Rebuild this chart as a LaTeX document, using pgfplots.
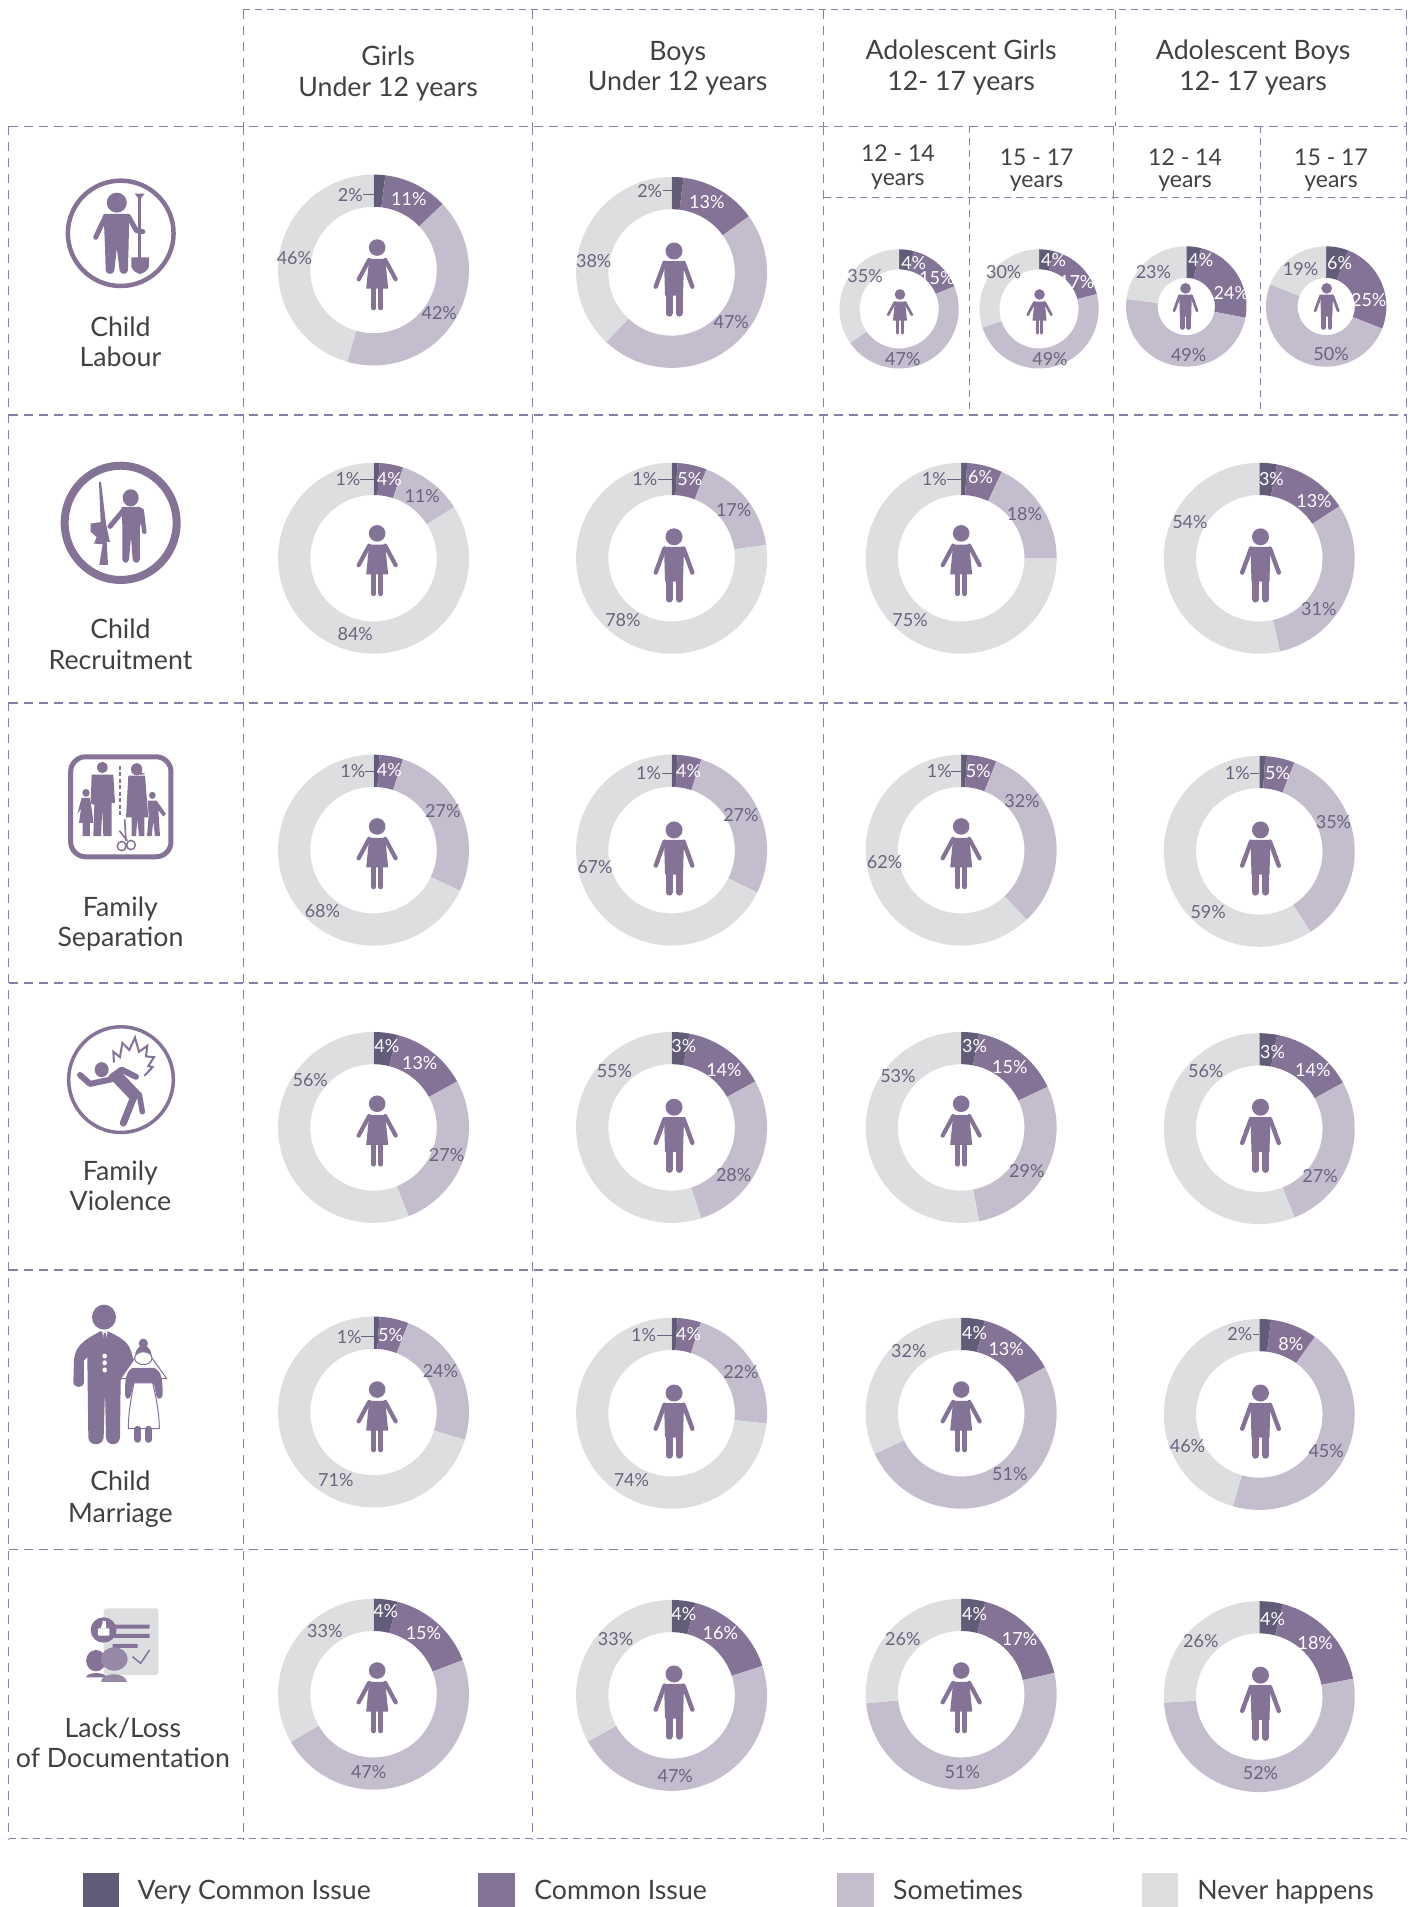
\documentclass[border=0pt]{standalone}
\usepackage{fontspec}
\setmainfont{Lato}
\usepackage{pgfplots}
\pgfplotsset{compat=1.18}
\definecolor{vc}{HTML}{635C78}
\definecolor{co}{HTML}{847397}
\definecolor{so}{HTML}{C4BDCE}
\definecolor{ne}{HTML}{DDDEE0}
\definecolor{gridc}{HTML}{8B7EA6}
\definecolor{txt}{HTML}{404144}
\definecolor{labc}{HTML}{6A647E}
\newcommand\fsL{\fontsize{26.7}{30}\selectfont}
\newcommand\fsS{\fontsize{23}{26}\selectfont}
\newcommand\fsP{\fontsize{18}{20}\selectfont}
\newcount\segj
% segment of a ring: cx cy Ro Ri from to colour
\newcommand\seg[7]{%
  \pgfmathtruncatemacro\segN{max(1,ceil((#6-#5)/4))}%
  \pgfmathsetmacro\segd{(#6-#5)/\segN}%
  \gdef\seglist{}%
  \segj=0
  \loop\ifnum\segj<\numexpr\segN+1\relax
    \pgfmathsetmacro\sega{#5+\segd*\the\segj}%
    \pgfmathsetmacro\segx{#1+#3*sin(\sega)}%
    \pgfmathsetmacro\segy{#2-#3*cos(\sega)}%
    \xdef\seglist{\seglist(\segx,\segy) }%
    \advance\segj by 1
  \repeat
  \segj=\segN
  \loop\ifnum\segj>-1
    \pgfmathsetmacro\sega{#5+\segd*\the\segj}%
    \pgfmathsetmacro\segx{#1+#4*sin(\sega)}%
    \pgfmathsetmacro\segy{#2-#4*cos(\sega)}%
    \xdef\seglist{\seglist(\segx,\segy) }%
    \advance\segj by -1
  \repeat
  \edef\segcmd{\noexpand\addplot[fill=#7,draw=none,no markers,forget plot] coordinates {\seglist};}%
  \segcmd
}
% donut: cx cy Ro Ri  very common, common, sometimes, never
\newcommand\donut[8]{%
  \pgfmathsetmacro\dT{#5+#6+#7+#8}%
  \pgfmathsetmacro\dA{3.6*(#5*100/\dT)}%
  \pgfmathsetmacro\dB{3.6*((#5+#6)*100/\dT)}%
  \pgfmathsetmacro\dC{3.6*((#5+#6+#7)*100/\dT)}%
  \edef\dArgs{{#1}{#2}{#3}{#4}}%
  \edef\dcmd{\noexpand\seg\dArgs{0}{\dA}{vc}\noexpand\seg\dArgs{\dA}{\dB}{co}\noexpand\seg\dArgs{\dB}{\dC}{so}\noexpand\seg\dArgs{\dC}{360}{ne}}%
  \dcmd
}
\newcommand\dl[3]{\node[font=\fsP,text=labc,inner sep=0pt] at (axis cs:#1,#2) {#3\%};}
\newcommand\wl[3]{\node[font=\fsP,text=white,inner sep=0pt] at (axis cs:#1,#2) {#3\%};}
\newcommand\lead[3]{\draw[labc,line width=1pt] (axis cs:#1,#3) -- (axis cs:#2,#3);}
\newcommand\girl[3]{\begin{scope}[shift={(#1*1.21668,1907-#2*1.2162)},scale=#3,co,fill=co]
  \fill (0,27.3) circle [radius=8.3];
  \fill (-8,16) -- (8,16) -- (11,-13.7) -- (-11,-13.7) -- cycle;
  \draw[line width=#3*4.2pt,line cap=round] (-8,15) -- (-18.5,-4.5);
  \draw[line width=#3*4.2pt,line cap=round] (8,15) -- (18.5,-4.5);
  \draw[line width=#3*5pt,line cap=round] (-3.6,-12) -- (-3.6,-33);
  \draw[line width=#3*5pt,line cap=round] (3.6,-12) -- (3.6,-33);
\end{scope}}
\newcommand\boy[3]{\begin{scope}[shift={(#1*1.21668,1907-#2*1.2162)},scale=#3,co,fill=co]
  \fill (0,28.7) circle [radius=8.5];
  \fill (-10,18.7) -- (10,18.7) -- (9,-16) -- (-9,-16) -- cycle;
  \draw[line width=#3*4.4pt,line cap=round] (-9.5,17) -- (-18.3,-7);
  \draw[line width=#3*4.4pt,line cap=round] (9.5,17) -- (18.3,-7);
  \draw[line width=#3*7pt,line cap=round] (-5,-12) -- (-5,-33.5);
  \draw[line width=#3*7pt,line cap=round] (5,-12) -- (5,-33.5);
\end{scope}}
\newcommand\tx[3]{\node[font=\fsL,text=txt,inner sep=0pt,yshift=-4.5pt] at (axis cs:#1,#2) {\strut #3};}
\newcommand\sx[3]{\node[font=\fsS,text=txt,inner sep=0pt,yshift=-3.5pt] at (axis cs:#1,#2) {\strut #3};}
\begin{document}
\begin{tikzpicture}[x=1pt,y=1pt]
\useasboundingbox (0,0) rectangle (1415,1907);
\begin{axis}[at={(0pt,0pt)},anchor=south west,scale only axis,width=1415pt,height=1907pt,
  xmin=0,xmax=1163,ymin=0,ymax=1568,y dir=reverse,hide axis,clip=false,enlargelimits=false]
% ---- grid
\tikzset{hh/.style={gridc,line width=1.8pt,dash pattern=on 9pt off 6pt},
         vv/.style={gridc,line width=1.1pt,dash pattern=on 9pt off 7pt},
         ss/.style={gridc,line width=1pt,dash pattern=on 7pt off 5pt}}
\draw[ss] (axis cs:200,8) -- (axis cs:1156,8);
\foreach \y in {104,341,578,808,1044,1274} {\edef\t{\noexpand\draw[hh] (axis cs:7,\y) -- (axis cs:1156,\y);}\t}
\draw[ss] (axis cs:7,1512) -- (axis cs:1156,1512);
\foreach \x in {7,200,438,677,915,1156} {\edef\t{\noexpand\draw[vv] (axis cs:\x,104) -- (axis cs:\x,1512);}\t}
\foreach \x in {200,438,677,917,1156} {\edef\t{\noexpand\draw[vv] (axis cs:\x,8) -- (axis cs:\x,104);}\t}
\draw[ss] (axis cs:677,162) -- (axis cs:1156,162);
\draw[ss] (axis cs:797,104) -- (axis cs:797,341);
\draw[ss] (axis cs:1036,104) -- (axis cs:1036,341);
% ---- donuts
\donut{307}{222}{78.5}{52}{2}{11}{42}{46}
\donut{552}{224}{78.5}{52}{2}{13}{47}{38}
\donut{739}{254}{49}{32.5}{4}{15}{47}{35}
\donut{854}{254}{49}{32.5}{4}{17}{49}{30}
\donut{975}{252}{49.5}{23.5}{4}{24}{49}{23}
\donut{1090}{252}{49.5}{23.5}{6}{25}{50}{19}
\donut{307}{459}{78.5}{52}{1}{4}{11}{84}
\donut{552}{459}{78.5}{52}{1}{5}{17}{78}
\donut{790}{459}{78.5}{52}{1}{6}{18}{75}
\donut{1035}{459}{78.5}{52}{3}{13}{31}{54}
\donut{307}{699}{78.5}{52}{1}{4}{27}{68}
\donut{552}{699}{78.5}{52}{1}{4}{27}{67}
\donut{790}{699}{78.5}{52}{1}{5}{32}{62}
\donut{1035}{700}{78.5}{52}{1}{5}{35}{59}
\donut{307}{927}{78.5}{52}{4}{13}{27}{56}
\donut{552}{927}{78.5}{52}{3}{14}{28}{55}
\donut{790}{927}{78.5}{52}{3}{15}{29}{53}
\donut{1035}{928}{78.5}{52}{3}{14}{27}{56}
\donut{307}{1161}{78.5}{52}{1}{5}{24}{71}
\donut{552}{1162}{78.5}{52}{1}{4}{22}{74}
\donut{790}{1162}{78.5}{52}{4}{13}{51}{32}
\donut{1035}{1163}{78.5}{52}{2}{8}{45}{46}
\donut{307}{1393}{78.5}{52}{4}{15}{47}{33}
\donut{552}{1394}{78.5}{52}{4}{16}{47}{33}
\donut{790}{1393}{78.5}{52}{4}{17}{51}{26}
\donut{1035}{1395}{78.5}{52}{4}{18}{52}{26}
% ---- legend swatches
\addplot[fill=vc,draw=none,no markers,forget plot] coordinates {(68,1540) (98,1540) (98,1568) (68,1568)};
\addplot[fill=co,draw=none,no markers,forget plot] coordinates {(393,1540) (423,1540) (423,1568) (393,1568)};
\addplot[fill=so,draw=none,no markers,forget plot] coordinates {(688,1540) (718,1540) (718,1568) (688,1568)};
\addplot[fill=ne,draw=none,no markers,forget plot] coordinates {(939,1540) (968,1540) (968,1568) (939,1568)};
% ---- value labels
\dl{288}{160}{2}\lead{298}{307}{160}\wl{336}{164}{11}\dl{361}{257}{42}\dl{242}{212}{46}
\dl{534}{157}{2}\lead{545}{552}{157}\wl{581}{166}{13}\dl{601}{265}{47}\dl{488}{215}{38}
\wl{751}{216}{4}\wl{770}{229}{15}\dl{742}{295}{47}\dl{711}{227}{35}
\wl{866}{214}{4}\wl{885}{232}{17}\dl{863}{295}{49}\dl{825}{224}{30}
\wl{987}{214}{4}\wl{1012}{241}{24}\dl{977}{292}{49}\dl{948}{224}{23}
\wl{1101}{216}{6}\wl{1125}{247}{25}\dl{1094}{291}{50}\dl{1069}{221}{19}
\dl{286}{394}{1}\lead{296}{307}{394}\wl{320}{394}{4}\dl{347}{408}{11}\dl{292}{521}{84}
\dl{530}{394}{1}\lead{541}{552}{394}\wl{567}{394}{5}\dl{603}{419}{17}\dl{512}{510}{78}
\dl{768}{394}{1}\lead{778}{790}{394}\wl{806}{392}{6}\dl{842}{423}{18}\dl{748}{510}{75}
\wl{1045}{394}{3}\wl{1080}{412}{13}\dl{1084}{501}{31}\dl{978}{429}{54}
\dl{290}{634}{1}\lead{300}{307}{634}\wl{320}{633}{4}\dl{364}{667}{27}\dl{265}{749}{68}
\dl{533}{636}{1}\lead{544}{552}{636}\wl{566}{634}{4}\dl{609}{670}{27}\dl{489}{713}{67}
\dl{772}{634}{1}\lead{782}{790}{634}\wl{804}{634}{5}\dl{840}{659}{32}\dl{727}{709}{62}
\dl{1017}{636}{1}\lead{1027}{1035}{636}\wl{1050}{636}{5}\dl{1096}{676}{35}\dl{993}{750}{59}
\wl{318}{860}{4}\wl{345}{874}{13}\dl{367}{950}{27}\dl{255}{888}{56}
\wl{562}{860}{3}\wl{595}{880}{14}\dl{603}{966}{28}\dl{505}{881}{55}
\wl{801}{860}{3}\wl{830}{877}{15}\dl{844}{963}{29}\dl{738}{885}{53}
\wl{1046}{865}{3}\wl{1079}{880}{14}\dl{1085}{967}{27}\dl{991}{881}{56}
\dl{287}{1099}{1}\lead{297}{307}{1099}\wl{321}{1098}{5}\dl{362}{1127}{24}\dl{276}{1217}{71}
\dl{529}{1098}{1}\lead{540}{552}{1098}\wl{566}{1097}{4}\dl{609}{1128}{22}\dl{519}{1217}{74}
\wl{801}{1096}{4}\wl{827}{1109}{13}\dl{830}{1212}{51}\dl{747}{1111}{32}
\dl{1019}{1097}{2}\lead{1030}{1035}{1097}\wl{1061}{1105}{8}\dl{1090}{1193}{45}\dl{976}{1189}{46}
\wl{317}{1325}{4}\wl{348}{1343}{15}\dl{303}{1457}{47}\dl{267}{1341}{33}
\wl{562}{1327}{4}\wl{592}{1343}{16}\dl{555}{1460}{47}\dl{506}{1348}{33}
\wl{801}{1327}{4}\wl{838}{1348}{17}\dl{791}{1457}{51}\dl{742}{1348}{26}
\wl{1046}{1331}{4}\wl{1081}{1351}{18}\dl{1036}{1458}{52}\dl{987}{1349}{26}
% ---- headers
\tx{319}{45}{Girls}\tx{319}{71}{Under 12 years}
\tx{557}{41}{Boys}\tx{557}{66}{Under 12 years}
\tx{790}{40}{Adolescent Girls}\tx{790}{66}{12- 17 years}
\tx{1030}{40}{Adolescent Boys}\tx{1030}{66}{12- 17 years}
\sx{738}{126}{12 - 14}\sx{738}{145}{years}
\sx{852}{129}{15 - 17}\sx{852}{147}{years}
\sx{974}{129}{12 - 14}\sx{974}{147}{years}
\sx{1094}{129}{15 - 17}\sx{1094}{147}{years}
\tx{99}{268}{Child}\tx{99}{293}{Labour}
\tx{99}{516}{Child}\tx{99}{542}{Recruitment}
\tx{99}{745}{Family}\tx{99}{770}{Separation}
\tx{99}{962}{Family}\tx{99}{987}{Violence}
\tx{99}{1217}{Child}\tx{99}{1243}{Marriage}
\tx{101}{1420}{Lack/Loss}\tx{101}{1445}{of Documentation}
% ---- legend text
\node[font=\fsL,text=txt,inner sep=0pt,anchor=west,yshift=-4.5pt] at (axis cs:113,1553) {\strut Very Common Issue};
\node[font=\fsL,text=txt,inner sep=0pt,anchor=west,yshift=-4.5pt] at (axis cs:439,1553) {\strut Common Issue};
\node[font=\fsL,text=txt,inner sep=0pt,anchor=west,yshift=-4.5pt] at (axis cs:734,1553) {\strut Sometimes};
\node[font=\fsL,text=txt,inner sep=0pt,anchor=west,yshift=-4.5pt] at (axis cs:984,1553) {\strut Never happens};
\end{axis}
% ---- figures
\girl{310}{226}{1}\boy{554}{230}{1}\girl{739.7}{256.5}{.64}\girl{854.4}{256.5}{.64}\boy{974.4}{252}{.63}\boy{1090.4}{252}{.63}
\girl{310}{461}{1}\boy{554}{465}{1}\girl{790}{461}{1}\boy{1036}{465}{1}
\girl{310}{702}{1}\boy{554}{706}{1}\girl{790}{702}{1}\boy{1036}{706}{1}
\girl{310}{930}{1}\boy{554}{934}{1}\girl{790}{930}{1}\boy{1036}{934}{1}
\girl{310}{1165}{1}\boy{554}{1169}{1}\girl{790}{1165}{1}\boy{1036}{1169}{1}
\girl{310}{1396}{1}\boy{554}{1400}{1}\girl{790}{1396}{1}\boy{1036}{1401}{1}
% ---- icons, in the coordinates of enlarged crops
\begin{scope}[shift={(0pt,1907pt)},x={(0.35714pt,0pt)},y={(0pt,-0.33333pt)},co,fill=co]
  \draw[line width=4.5pt] (338,700) circle [x radius=148,y radius=158];
  \fill (327,608) circle [x radius=28,y radius=30];
  \fill (290,642) -- (362,642) -- (360,740) -- (358,812) .. controls (355,825) and (338,825) .. (335,812) -- (327,745) -- (320,812) .. controls (317,825) and (299,825) .. (296,812) -- (294,740) -- cycle;
  \draw[line width=5pt,line cap=round] (295,650) -- (268,712);
  \draw[line width=5pt,line cap=round,line join=round] (360,650) -- (382,692) -- (400,695);
  \draw[line width=3pt] (390,590) -- (390,775);
  \fill (377,581) -- (405,581) -- (391,600) -- cycle;
  \fill (368,772) -- (417,772) -- (417,800) .. controls (415,812) and (400,820) .. (392,822) .. controls (384,820) and (370,812) .. (368,800) -- cycle;
\end{scope}
\begin{scope}[shift={(0pt,1477pt)},x={(0.33333pt,0pt)},y={(0pt,-0.35714pt)},co,fill=co]
  \draw[line width=8pt] (362,260) circle [x radius=168,y radius=160];
  \fill (392,190) circle [radius=24];
  \fill (365,215) -- (420,215) -- (432,232) -- (420,270) -- (420,362) .. controls (418,375) and (400,375) .. (398,362) -- (393,300) -- (387,362) .. controls (385,375) and (369,375) .. (367,362) -- (367,270) -- cycle;
  \draw[line width=5pt,line cap=round] (370,225) -- (330,270);
  \draw[line width=4.5pt,line cap=round] (425,225) -- (433,285);
  \fill (297,145) -- (303,145) -- (318,262) -- (330,315) -- (320,312) -- (324,378) -- (298,378) -- (308,320) -- (282,318) -- (290,300) -- (272,285) -- (272,262) -- (302,258) -- cycle;
  % separation
  \draw[line width=5pt,rounded corners=15pt] (212,915) rectangle (513,1195);
  \fill (307,945) circle [radius=16];
  \fill (275,965) -- (340,965) -- (345,1045) -- (335,1045) -- (335,1137) -- (310,1137) -- (307,1060) -- (303,1137) -- (280,1137) -- (283,1050) -- (272,1045) -- cycle;
  \fill (258,1016) circle [radius=11];
  \fill (245,1030) -- (270,1030) -- (278,1080) -- (280,1100) -- (270,1100) -- (270,1137) -- (248,1137) -- (248,1100) -- (237,1100) -- (243,1060) -- (232,1075) -- cycle;
  \fill (410,950) circle [radius=17];
  \fill (420,958) -- (437,963) -- (420,966) -- cycle;
  \fill (385,968) -- (435,968) -- (445,1085) -- (433,1085) -- (433,1137) -- (417,1137) -- (412,1090) -- (408,1137) -- (395,1137) -- (395,1085) -- (378,1085) -- cycle;
  \fill (457,1023) circle [radius=10];
  \fill (443,1038) -- (470,1038) -- (498,1075) -- (490,1082) -- (475,1065) -- (480,1137) -- (465,1137) -- (460,1095) -- (455,1137) -- (441,1137) -- (446,1080) -- cycle;
  \draw[line width=1.8pt,dash pattern=on 4pt off 2.5pt] (360,940) -- (360,1085);
  \draw[line width=1.6pt] (374,1090) -- (378,1150) (358,1122) -- (382,1150);
  \draw[line width=1.5pt] (365,1165) circle [radius=13] (393,1162) circle [radius=13];
\end{scope}
\begin{scope}[shift={(0pt,907pt)},x={(0.33333pt,0pt)},y={(0pt,-0.35714pt)},co,fill=co]
  \draw[line width=3.5pt] (363,223) circle [x radius=157,y radius=148];
  \fill (305,195) circle [radius=21];
  \draw[line width=6pt,line cap=round,line join=round] (335,222) -- (270,235) -- (240,210);
  \draw[line width=6pt,line cap=round,line join=round] (335,215) -- (365,195) -- (408,215);
  \fill (325,215) -- (362,200) -- (425,262) -- (400,288) -- cycle;
  \draw[line width=5.5pt,line cap=round] (418,265) -- (427,313);
  \draw[line width=7pt,line cap=round] (400,275) -- (370,345);
  \draw[line width=2pt,line join=miter] (342,175) -- (340,145) -- (360,160) -- (367,120) -- (388,140) -- (405,105) -- (417,145) -- (442,128) -- (438,158) -- (462,160) -- (445,185) -- (458,188) -- (433,212);
  % marriage
  \fill (312,888) circle [x radius=36,y radius=35];
  \fill (222,1010) .. controls (225,960) and (270,945) .. (300,928) -- (325,928) .. controls (360,945) and (390,955) .. (398,1000) -- (405,1020) -- (362,1065) -- (360,1225) .. controls (358,1250) and (320,1250) .. (318,1225) -- (315,1090) -- (311,1225) .. controls (308,1250) and (267,1250) .. (265,1225) -- (262,1000) -- (252,1010) -- (252,1070) .. controls (250,1088) and (222,1088) .. (220,1070) -- cycle;
  \fill[white] (306,928) -- (323,928) -- (315,962) -- cycle;
  \fill (311,932) -- (318,932) -- (321,958) -- (315,964) -- (309,958) -- cycle;
  \fill[white] (314,997) circle [radius=7] (314,1016) circle [radius=7] (314,1036) circle [radius=7];
  \fill (430,962) circle [radius=14];
  \filldraw[fill=white,line width=1pt] (430,968) -- (362,1060) -- (500,1060) -- cycle;
  \fill (430,965) .. controls (412,970) and (405,985) .. (405,998) -- (455,998) .. controls (455,985) and (448,970) .. (430,965) -- cycle;
  \filldraw[fill=white,line width=1pt] (430,1003) circle [x radius=26,y radius=18];
  \fill (398,1030) -- (462,1030) .. controls (485,1040) and (488,1060) .. (488,1105) .. controls (486,1120) and (470,1120) .. (468,1105) -- (462,1075) -- (400,1075) -- (393,1105) .. controls (390,1120) and (376,1120) .. (375,1105) .. controls (375,1060) and (378,1040) .. (398,1030) -- cycle;
  \filldraw[fill=white,line width=1pt] (402,1072) -- (458,1072) .. controls (470,1120) and (478,1160) .. (478,1200) -- (385,1200) .. controls (385,1160) and (392,1120) .. (402,1072) -- cycle;
  \draw[line width=7pt,line cap=round] (414,1202) -- (414,1230) (446,1202) -- (446,1230);
\end{scope}
\begin{scope}[shift={(0pt,347pt)},x={(0.44643pt,0pt)},y={(0pt,-0.33333pt)}]
  \fill[ne,rounded corners=3pt] (232,145) rectangle (355,345);
  \fill[co] (232,210) circle [x radius=29,y radius=38];
  \fill[co] (255,194) rectangle (335,206) (255,222) rectangle (335,234) (252,252) rectangle (308,264);
  \fill[white,rounded corners=1pt] (219,205) rectangle (245,227);
  \fill[white] (226,205) -- (231,182) -- (237,184) -- (238,205) -- cycle;
  \fill[co] (215,302) circle [x radius=22,y radius=32];
  \fill[co] (193,352) .. controls (195,335) and (235,335) .. (240,352) -- cycle;
  \fill[co!85!white] (226,366) .. controls (228,335) and (282,335) .. (284,366) -- cycle;
  \fill[co!85!white] (256,297) circle [x radius=30,y radius=35];
  \draw[co,line width=1.5pt] (297,290) -- (315,310) -- (335,270);
\end{scope}
\end{tikzpicture}
\end{document}
